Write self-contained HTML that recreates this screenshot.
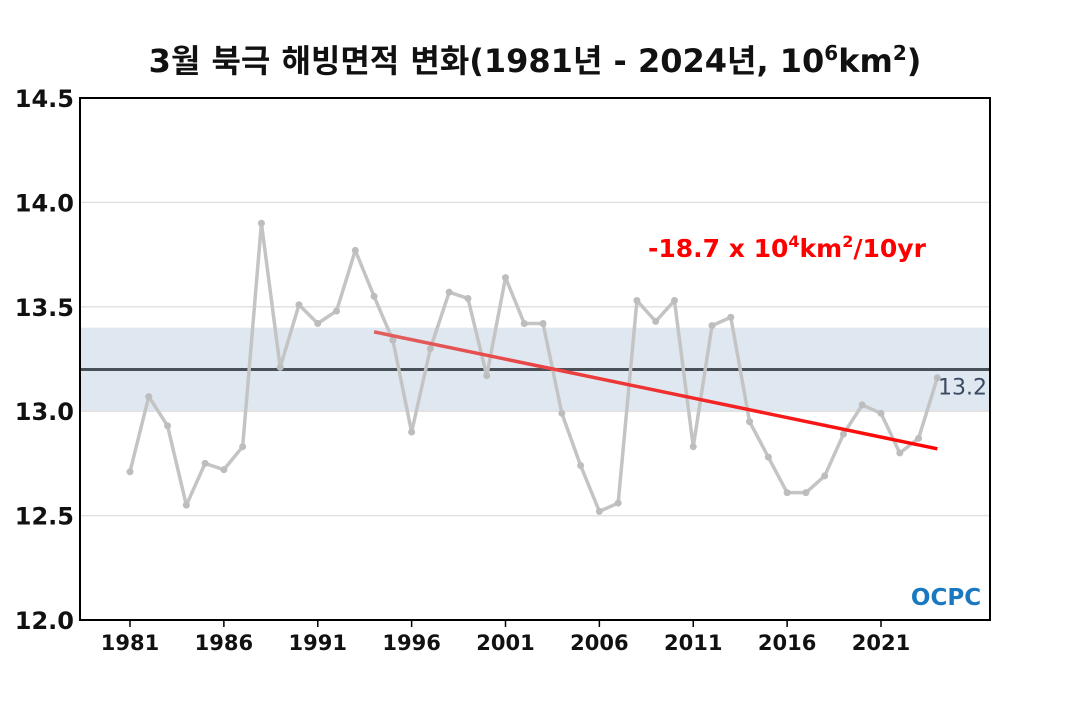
<!DOCTYPE html>
<html><head><meta charset="utf-8">
<style>
body{margin:0;background:#fff;}
svg text{font-family:"DejaVu Sans","Liberation Sans","Noto Sans CJK KR",sans-serif;}
</style></head>
<body>
<svg id="chart" width="1070" height="700" viewBox="0 0 1070 700" xmlns="http://www.w3.org/2000/svg">
<text x="535" y="72" text-anchor="middle" font-size="32" font-weight="bold" fill="#111">3월 북극 해빙면적 변화(1981년 - 2024년, 10<tspan dy="-12" font-size="20">6</tspan><tspan dy="12">km</tspan><tspan dy="-12" font-size="20">2</tspan><tspan dy="12">)</tspan></text>
<g id="plot"></g>
</svg>
<script>
const years=[];for(let y=1981;y<=2024;y++)years.push(y);
const values=[12.71,13.07,12.93,12.55,12.75,12.72,12.83,13.90,13.21,13.51,13.42,13.48,13.77,13.55,13.34,12.90,13.30,13.57,13.54,13.17,13.64,13.42,13.42,12.99,12.74,12.52,12.56,13.53,13.43,13.53,12.83,13.41,13.45,12.95,12.78,12.61,12.61,12.69,12.89,13.03,12.99,12.80,12.87,13.16];
const yTicks=[12.0,12.5,13.0,13.5,14.0,14.5];
const xTicks=[1981,1986,1991,1996,2001,2006,2011,2016,2021];
const meanValue=13.2;
const bandRange=[13.0,13.4];
const trendYears=[1994,2024];
const trendValues=[13.38,12.82];
const NS="http://www.w3.org/2000/svg";
const L=80,R=990,T=98,B=620;
const xs=y=>130+(y-1981)*(751/40);
const ys=v=>B-(v-12.0)*(B-T)/2.5;
const g=document.getElementById('plot');
function mk(tag,at,name){const e=document.createElementNS(NS,tag);for(const k in at)e.setAttribute(k,at[k]);


g.appendChild(e);return e;}
const band=mk('rect',{x:L,y:ys(bandRange[1]),width:R-L,height:ys(bandRange[0])-ys(bandRange[1]),fill:'#dfe8f1'},'normal-range-band');
yTicks.forEach(v=>{
 if(v>12&&v<14.5){const gl=mk('line',{x1:L,x2:R,y1:ys(v),y2:ys(v),stroke:'#e2e2e2','stroke-width':1.5},'y-gridline');}
 const t=mk('text',{x:74,y:ys(v)+9,'text-anchor':'end','font-size':24,'font-weight':'bold',fill:'#111'},'y-tick-label');t.textContent=v.toFixed(1);
});
xTicks.forEach(yr=>{
 const tk=mk('line',{x1:xs(yr),x2:xs(yr),y1:B,y2:B+7,stroke:'#000','stroke-width':1.5},'x-tick');
 const t=mk('text',{x:xs(yr),y:B+30,'text-anchor':'middle','font-size':21,'font-weight':'bold',fill:'#111'},'x-tick-label');t.textContent=yr;
});
const ml=mk('line',{x1:L,x2:R,y1:ys(meanValue),y2:ys(meanValue),stroke:'#4a5058','stroke-width':3},'mean-line');
const mt=mk('text',{x:987,y:ys(meanValue)+25,'text-anchor':'end','font-size':22,fill:'#3a4a60'},'mean-label');mt.textContent=meanValue.toFixed(1);
const pts=years.map((y,i)=>xs(y)+','+ys(values[i])).join(' ');
const pl=mk('polyline',{points:pts,fill:'none',stroke:'#c4c4c4','stroke-width':3.5,'stroke-linejoin':'round'},'sea-ice-line');
years.forEach((y,i)=>{const c=mk('circle',{cx:xs(y),cy:ys(values[i]),r:3.5,fill:'#bdbdbd'},'data-point');});
const defs=document.createElementNS(NS,'defs');defs.innerHTML='<linearGradient id="tg" x1="0" x2="1" y1="0" y2="0"><stop offset="0" stop-color="#e06060"/><stop offset="1" stop-color="#ff0000"/></linearGradient>';document.getElementById('chart').insertBefore(defs,g);
const tl=mk('line',{x1:xs(trendYears[0]),y1:ys(trendValues[0]),x2:xs(trendYears[1]),y2:ys(trendValues[1]),stroke:'url(#tg)','stroke-width':3.5},'trend-line');
const tt=mk('text',{x:648,y:257,'font-size':25,'font-weight':'bold',fill:'#ff0000'},'trend-label');
tt.innerHTML='-18.7 x 10<tspan dy="-10" font-size="16">4</tspan><tspan dy="10">km</tspan><tspan dy="-10" font-size="16">2</tspan><tspan dy="10">/10yr</tspan>';
const lg=mk('text',{x:946,y:605,'text-anchor':'middle','font-size':23,'font-weight':'bold',fill:'#1a78c0'},'ocpc-logo');lg.textContent='OCPC';
const fr=mk('rect',{x:L,y:T,width:R-L,height:B-T,fill:'none',stroke:'#000','stroke-width':2},'plot-frame');
</script>
</body></html>
